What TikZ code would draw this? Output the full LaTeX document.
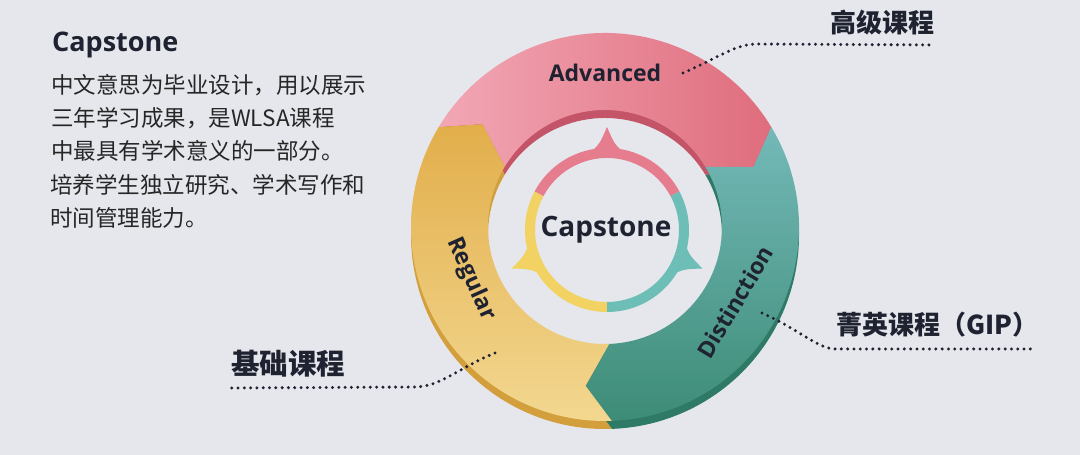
\documentclass[tikz,border=0pt]{standalone}
\usepackage{fontspec}
\usetikzlibrary{calc}
\newfontfamily\osans{Open Sans}
\newfontfamily\cjk{Noto Sans CJK SC}
\definecolor{bg}{HTML}{E5E7EC}
\definecolor{pinkL}{HTML}{F2A7B5}
\definecolor{pinkR}{HTML}{DF6D7D}
\definecolor{pinkRim}{HTML}{C45468}
\definecolor{tealT}{HTML}{74B9B8}
\definecolor{tealB}{HTML}{3D8C77}
\definecolor{tealRim}{HTML}{2E7A67}
\definecolor{yelT}{HTML}{E2AE4B}
\definecolor{yelB}{HTML}{F3D891}
\definecolor{yelRim}{HTML}{D39F3D}
\definecolor{ipink}{HTML}{E57D8E}
\definecolor{iyel}{HTML}{F2D263}
\definecolor{iteal}{HTML}{6DBEB6}
\definecolor{ink}{HTML}{1F2230}
\newcommand{\ringseg}[3]{($(#1)+(#2:194)$) arc[start angle=#2, end angle=#3, radius=194] -- ($(#1)+({#3-9}:160)$) -- ($(#1)+(#3:117)$) arc[start angle=#3, end angle=#2, radius=117] -- ($(#1)+({#2-9}:160)$) -- cycle}
\newcommand{\iseg}[2]{($(Ci)+(#1:82)$) arc[start angle=#1, end angle=#2, radius=82] -- ($(Ci)+(#2:72)$) arc[start angle=#2, end angle=#1, radius=72] -- cycle}
\newcommand{\itri}[1]{($(Ci)+({#1-14}:78)$) .. controls ($(Ci)+({#1-5}:86)$) .. ($(Ci)+(#1:103)$) .. controls ($(Ci)+({#1+5}:86)$) .. ($(Ci)+({#1+14}:78)$) -- cycle}
\begin{document}
\begin{tikzpicture}[x=1pt,y=1pt,
  latinb/.style={font=\osans\bfseries\fontsize{#1}{#1}\selectfont, text=ink, inner sep=0pt},
  body/.style={font=\cjk\fontsize{22.5}{27}\selectfont, text=black!85, inner sep=0pt, anchor=west},
  cjkb/.style={font=\cjk\bfseries\fontsize{#1}{#1}\selectfont, text=ink, inner sep=0pt},
  leader/.style={draw=ink, line width=3.3pt, line cap=round, dash pattern=on 0pt off 6.3pt}]
\useasboundingbox (0,0) rectangle (1080,455);
\fill[bg] (0,0) rectangle (1080,455);
\coordinate (C) at (605,228);
\coordinate (Cr) at (605,220);
\coordinate (Ci) at (607,225);
% rim (3D thickness)
\fill[pinkRim] \ringseg{Cr}{149}{31};
\fill[tealRim] \ringseg{Cr}{31}{-88};
\fill[yelRim] \ringseg{Cr}{272}{149};
% top surface
\shade[left color=pinkL, right color=pinkR] \ringseg{C}{149}{31};
\shade[top color=tealT, bottom color=tealB] \ringseg{C}{31}{-88};
\shade[top color=yelT, bottom color=yelB] \ringseg{C}{272}{149};
% inner ring
\fill[ipink] \iseg{28}{152};
\fill[iyel] \iseg{152}{270};
\fill[iteal] \iseg{270}{388};
\fill[ipink] \itri{90};
\fill[iyel] \itri{202};
\fill[iteal] \itri{338};
% ring texts
\node[latinb=28, anchor=base] (center) at (606,218) {Capstone};
\node[latinb=23, anchor=base] (adv) at (605,373) {Advanced};
\node[latinb=23, rotate=-66] (reg) at (471,176) {Regular};
\node[latinb=23, rotate=59] (dis) at (735,153) {Distinction};
% left text
\node[latinb=27, anchor=base west] (title) at (52,403) {Capstone};
\node[body] (l1) at (51,370) {中文意思为毕业设计，用以展示};
\node[body] (l2) at (51,337) {三年学习成果，是WLSA课程};
\node[body] (l3) at (51,304) {中最具有学术意义的一部分。};
\node[body] (l4) at (50,270) {培养学生独立研究、学术写作和};
\node[body] (l5) at (50,237) {时间管理能力。};
% labels
\node[cjkb=26] (lblAdv) at (882,432) {高级课程};
\node[cjkb=26, anchor=west] (lblDis) at (836,130) {菁英课程（GIP）};
\node[cjkb=28.5] (lblReg) at (288,91) {基础课程};
% leaders
\coordinate (advP) at (683,382);
\coordinate (advK) at (758,411);
\coordinate (advE) at (935,410);
\coordinate (disP) at (762,142);
\coordinate (disK) at (836,106);
\coordinate (disE) at (1033,106);
\coordinate (regP) at (495,102);
\coordinate (regK) at (415,68);
\coordinate (regE) at (230,67);
\draw[leader] (advP) .. controls (722,399) and (735,411) .. (advK) -- (advE);
\draw[leader] (disP) .. controls (800,125) and (818,106) .. (disK) -- (disE);
\draw[leader] (regP) .. controls (460,88) and (440,68) .. (regK) -- (regE);
\end{tikzpicture}
\end{document}
